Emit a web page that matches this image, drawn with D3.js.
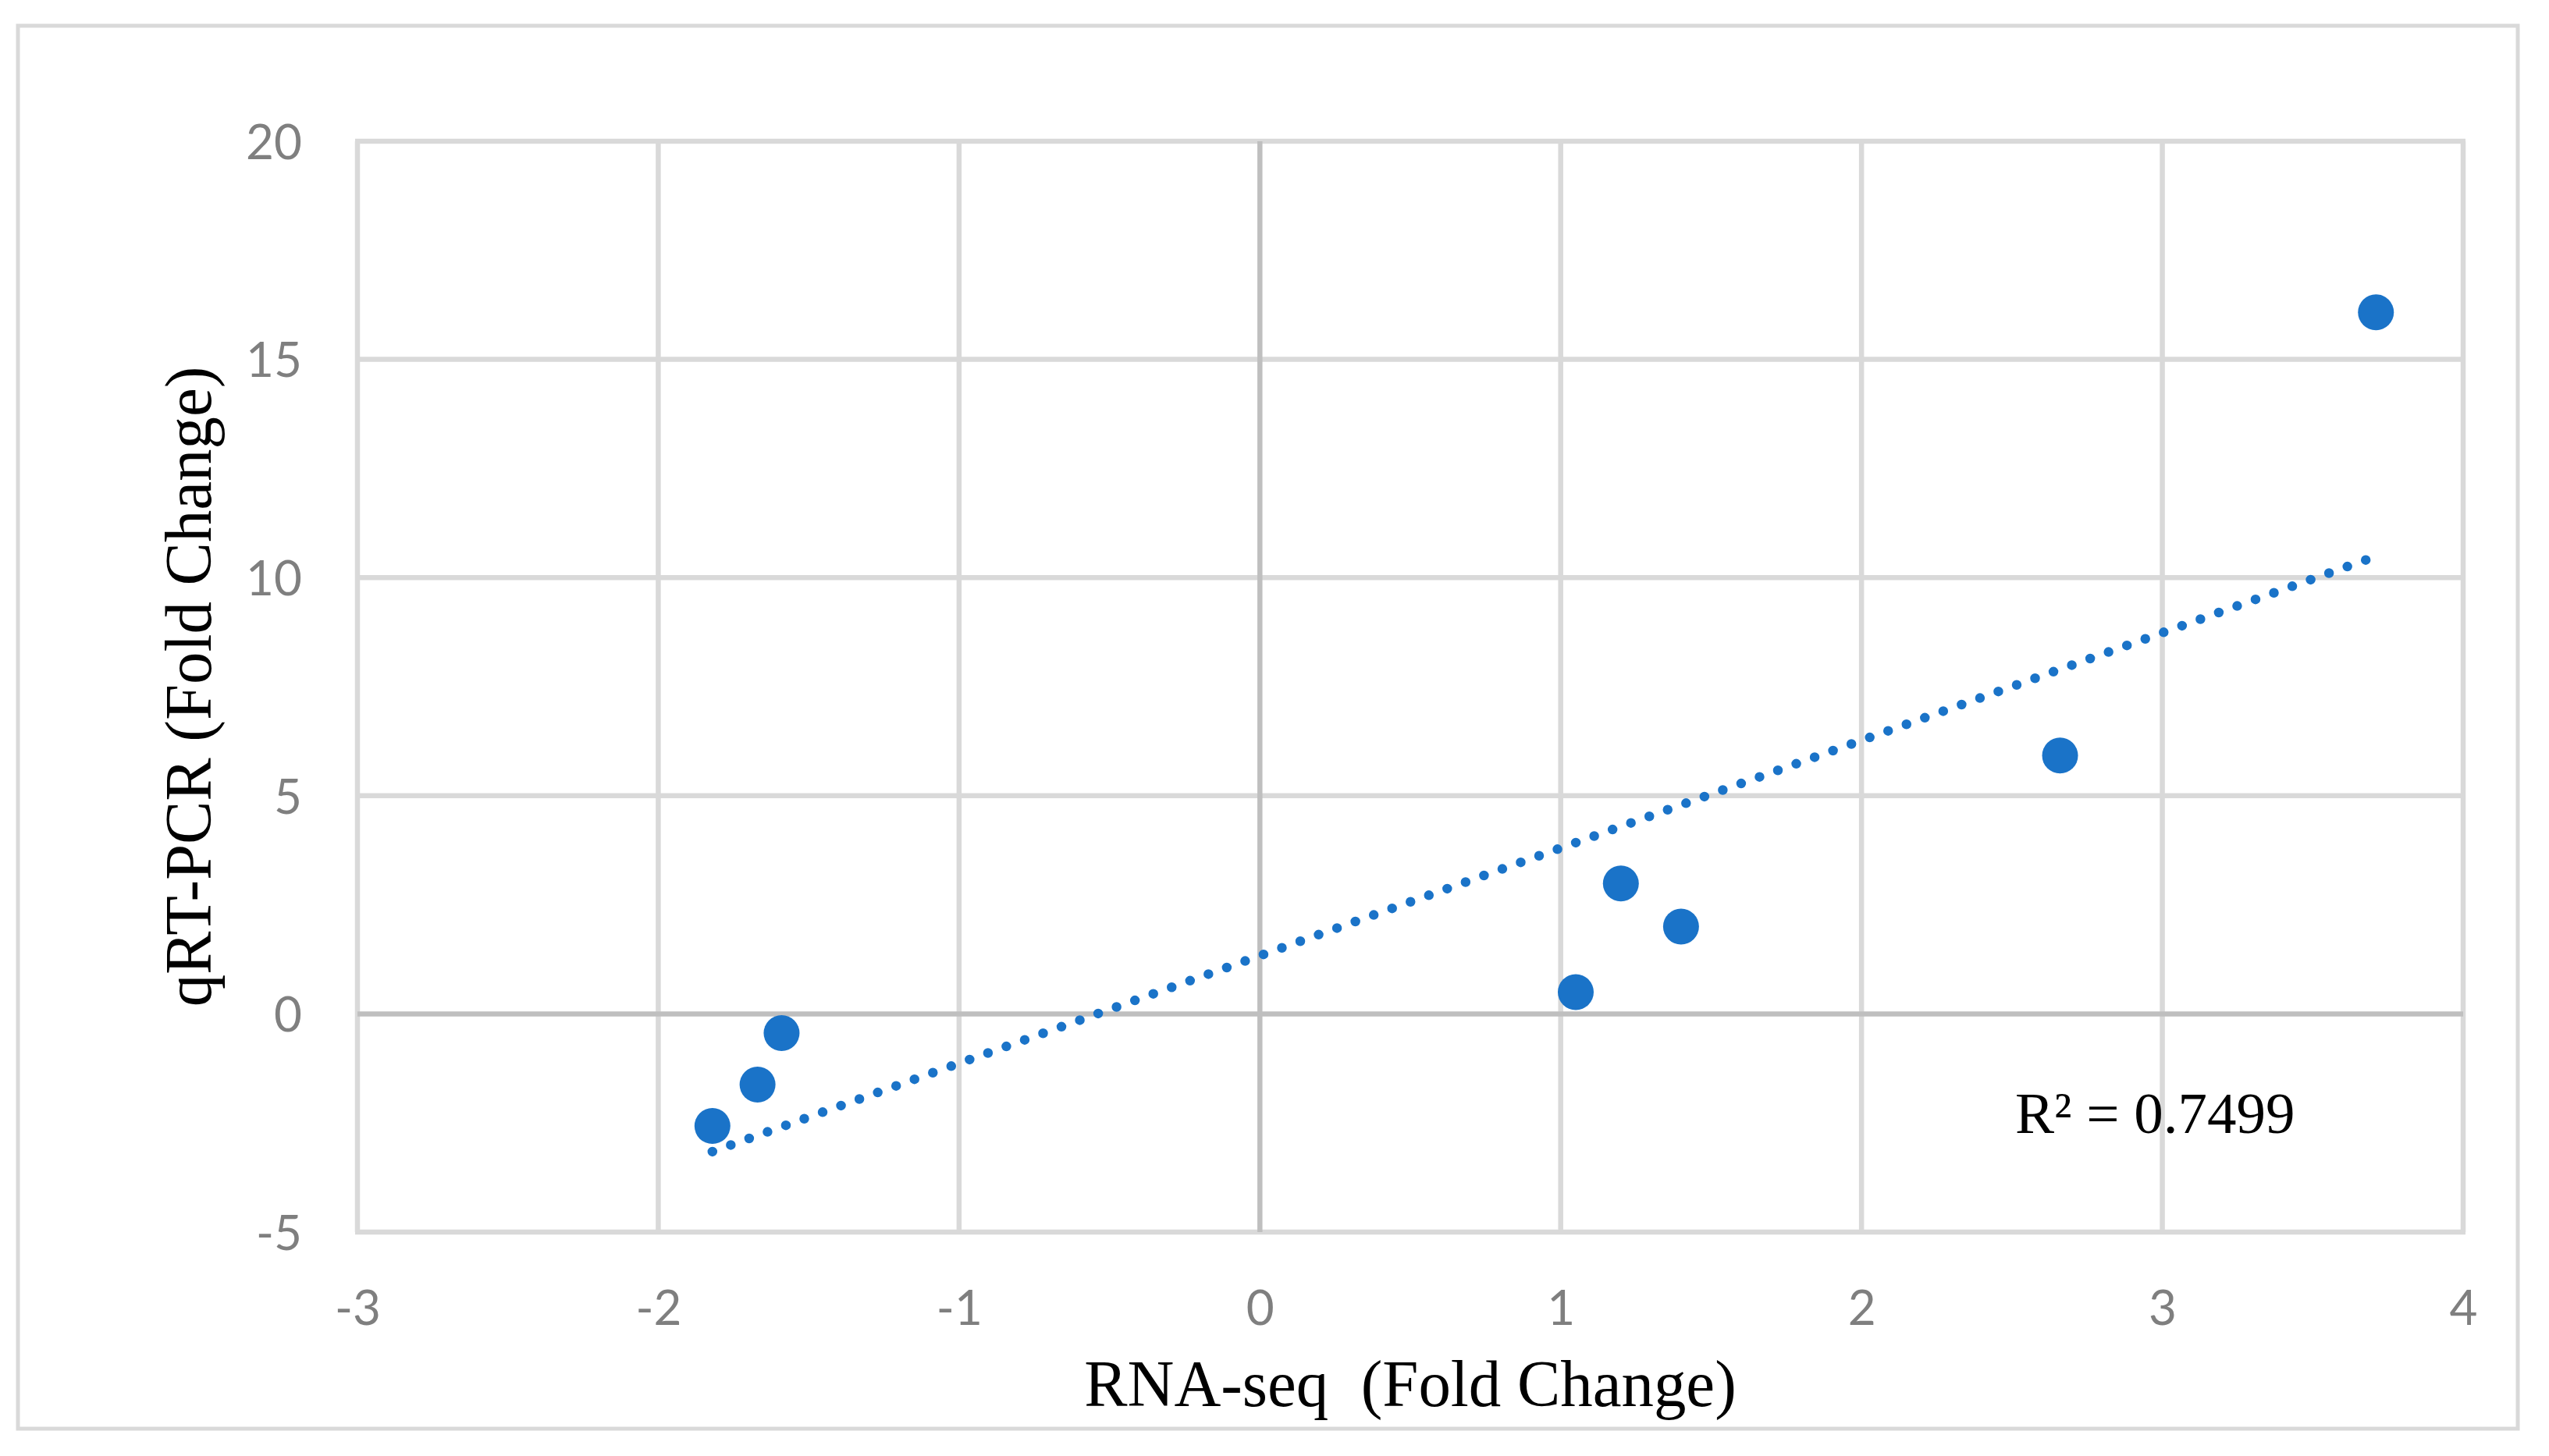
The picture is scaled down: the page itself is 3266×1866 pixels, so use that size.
<!DOCTYPE html>
<html>
<head>
<meta charset="utf-8">
<script src="https://cdn.jsdelivr.net/npm/d3@7"></script>
<style>
  html, body { margin: 0; padding: 0; background: #ffffff; }
  svg { display: block; }
</style>
</head>
<body>
<svg id="chart" width="3266" height="1866"></svg>
<script>
// ---- data ----
const rnaSeq = [-1.82, -1.67, -1.59, 1.05, 1.20, 1.40, 2.66, 3.71];   // x: RNA-seq fold change
const qrtPcr = [-2.57, -1.62, -0.44, 0.50, 2.99, 2.00, 5.92, 16.08];  // y: qRT-PCR fold change
const xTicks = [-3, -2, -1, 0, 1, 2, 3, 4];
const yTicks = [-5, 0, 5, 10, 15, 20];
const xTitle = "RNA-seq  (Fold Change)";
const yTitle = "qRT-PCR (Fold Change)";
const r2Label = "R² = 0.7499";

// ---- layout ----
const W = 3266, H = 1866;
const plot = { left: 458, right: 3156, top: 181, bottom: 1579 };
const blue = "#1a73c8";
const gridColor = "#d9d9d9";
const zeroColor = "#bfbfbf";
const tickFont = "Lato, 'Open Sans', sans-serif";
const serif = "'Liberation Serif', 'Times New Roman', serif";

const svg = d3.select("#chart");
svg.append("rect").attr("width", W).attr("height", H).attr("fill", "#ffffff");

// outer chart border
svg.append("rect")
  .attr("x", 23).attr("y", 33).attr("width", 3203).attr("height", 1798)
  .attr("fill", "none").attr("stroke", gridColor).attr("stroke-width", 5);

const x = d3.scaleLinear().domain([xTicks[0], xTicks[xTicks.length - 1]]).range([plot.left, plot.right]);
const y = d3.scaleLinear().domain([yTicks[0], yTicks[yTicks.length - 1]]).range([plot.bottom, plot.top]);

// gridlines
const grid = svg.append("g");
grid.selectAll("line.v").data(xTicks.filter(d => d !== 0)).join("line")
  .attr("x1", d => x(d)).attr("x2", d => x(d))
  .attr("y1", plot.top).attr("y2", plot.bottom)
  .attr("stroke", gridColor).attr("stroke-width", 6.5);
grid.selectAll("line.h").data(yTicks.filter(d => d !== 0)).join("line")
  .attr("y1", d => y(d)).attr("y2", d => y(d))
  .attr("x1", plot.left - 3).attr("x2", plot.right + 3)
  .attr("stroke", gridColor).attr("stroke-width", 6.5);
// zero axes (darker)
grid.append("line")
  .attr("x1", x(0)).attr("x2", x(0)).attr("y1", plot.top).attr("y2", plot.bottom)
  .attr("stroke", zeroColor).attr("stroke-width", 6.5);
grid.append("line")
  .attr("x1", plot.left).attr("x2", plot.right).attr("y1", y(0)).attr("y2", y(0))
  .attr("stroke", zeroColor).attr("stroke-width", 6.5);

// axes labels via d3 axes
const xAxis = d3.axisBottom(x).tickValues(xTicks).tickSize(0).tickFormat(d => String(d));
const gx = svg.append("g").attr("transform", `translate(0,${plot.bottom})`).call(xAxis);
gx.select(".domain").remove();
gx.selectAll("text")
  .attr("y", 119).attr("dy", "0")
  .attr("fill", "#7f7f7f").style("font-family", tickFont).style("font-size", "62px");

const yAxis = d3.axisLeft(y).tickValues(yTicks).tickSize(0).tickPadding(71).tickFormat(d => String(d));
const gy = svg.append("g").attr("transform", `translate(${plot.left},0)`).call(yAxis);
gy.select(".domain").remove();
gy.selectAll("text")
  .attr("dy", "0.36em")
  .attr("fill", "#7f7f7f").style("font-family", tickFont).style("font-size", "62px");

// scatter points
const pts = rnaSeq.map((v, i) => ({ x: v, y: qrtPcr[i] }));
svg.append("g").selectAll("circle").data(pts).join("circle")
  .attr("cx", d => x(d.x)).attr("cy", d => y(d.y)).attr("r", 23)
  .attr("fill", blue);

// linear trendline (least squares from the data)
const mx = d3.mean(rnaSeq), my = d3.mean(qrtPcr);
const sxy = d3.sum(pts, d => (d.x - mx) * (d.y - my));
const sxx = d3.sum(pts, d => (d.x - mx) ** 2);
const slope = sxy / sxx, intercept = my - slope * mx;
const [x0, x1] = d3.extent(rnaSeq);
svg.append("path")
  .datum([x0, x1])
  .attr("d", d3.line().x(d => x(d)).y(d => y(intercept + slope * d)))
  .attr("fill", "none").attr("stroke", blue)
  .attr("stroke-width", 12.5).attr("stroke-linecap", "round")
  .attr("stroke-dasharray", "0 25");

// R² label
svg.append("text")
  .attr("x", 2582).attr("y", 1452)
  .style("font-family", serif).style("font-size", "75px").attr("fill", "#000")
  .text(r2Label);

// axis titles (slightly condensed like the reference)
svg.append("text")
  .attr("transform", `translate(${(plot.left + plot.right) / 2},1802) scale(0.975,1)`)
  .attr("text-anchor", "middle")
  .style("font-family", serif).style("font-size", "85px").style("white-space", "pre")
  .attr("fill", "#000")
  .text(xTitle);

svg.append("text")
  .attr("transform", `translate(270,${(plot.top + plot.bottom) / 2}) rotate(-90) scale(0.975,1)`)
  .attr("text-anchor", "middle")
  .style("font-family", serif).style("font-size", "85px")
  .attr("fill", "#000")
  .text(yTitle);
</script>
</body>
</html>
